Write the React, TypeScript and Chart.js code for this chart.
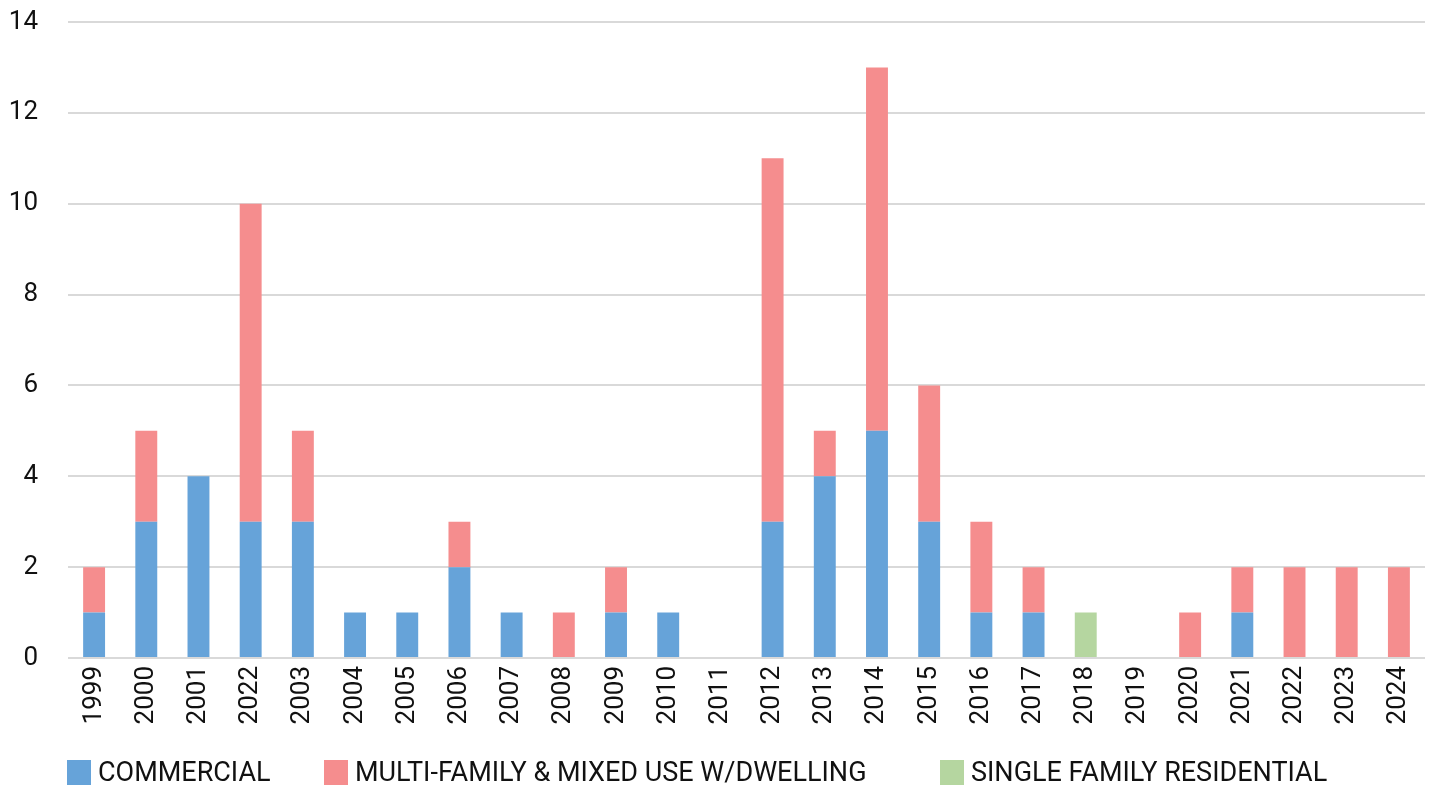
import React, { useEffect, useRef } from "react";
import { Chart, registerables } from "chart.js";

Chart.register(...registerables);

const categories = [
  "1999", "2000", "2001", "2022", "2003", "2004", "2005", "2006", "2007", "2008",
  "2009", "2010", "2011", "2012", "2013", "2014", "2015", "2016", "2017", "2018",
  "2019", "2020", "2021", "2022", "2023", "2024",
];
const commercial = [1, 3, 4, 3, 3, 1, 1, 2, 1, 0, 1, 1, 0, 3, 4, 5, 3, 1, 1, 0, 0, 0, 1, 0, 0, 0];
const multiFamily = [1, 2, 0, 7, 2, 0, 0, 1, 0, 1, 1, 0, 0, 8, 1, 8, 3, 2, 1, 0, 0, 1, 1, 2, 2, 2];
const singleFamily = [0, 0, 0, 0, 0, 0, 0, 0, 0, 0, 0, 0, 0, 0, 0, 0, 0, 0, 0, 1, 0, 0, 0, 0, 0, 0];
const seriesNames = ["COMMERCIAL", "MULTI-FAMILY & MIXED USE W/DWELLING", "SINGLE FAMILY RESIDENTIAL"];
const seriesColors = ["#66A3D9", "#F58D8E", "#B5D6A0"];
const yTicks = { min: 0, max: 14, step: 2 };

const FONT = "Roboto, 'DejaVu Sans', sans-serif";
const legendStarts = [67, 324, 940];

const customLegend = {
  id: "customLegend",
  afterDraw(chart: any) {
    const ctx = chart.ctx;
    ctx.save();
    ctx.font = `27px ${FONT}`;
    ctx.textBaseline = "middle";
    ctx.textAlign = "left";
    chart.data.datasets.forEach((ds: any, i: number) => {
      const x = legendStarts[i];
      ctx.fillStyle = ds.backgroundColor;
      ctx.fillRect(x, 760, 24, 25);
      ctx.fillStyle = "#111111";
      ctx.fillText(ds.label, x + 31, 774);
    });
    ctx.restore();
  },
};

export default function App() {
  const ref = useRef<HTMLCanvasElement>(null);
  useEffect(() => {
    if (!ref.current) return;
    const chart = new Chart(ref.current, {
      type: "bar",
      data: {
        labels: categories,
        datasets: [
          { label: seriesNames[0], data: commercial, backgroundColor: seriesColors[0] },
          { label: seriesNames[1], data: multiFamily, backgroundColor: seriesColors[1] },
          { label: seriesNames[2], data: singleFamily, backgroundColor: seriesColors[2] },
        ],
      },
      options: {
        responsive: false,
        animation: false,
        layout: { padding: { top: 22, right: 10, left: 0, bottom: 42 } },
        plugins: { legend: { display: false }, tooltip: { enabled: false } },
        datasets: { bar: { barPercentage: 0.42, categoryPercentage: 1 } },
        scales: {
          x: {
            stacked: true,
            grid: { display: false, drawTicks: false },
            border: { display: false },
            ticks: {
              minRotation: 90,
              maxRotation: 90,
              padding: 8,
              color: "#111111",
              font: { family: FONT, size: 26 },
              autoSkip: false,
            },
            afterFit(scale: any) {
              scale.height = 90;
              scale.paddingLeft = 0;
              scale.paddingRight = 0;
            },
          },
          y: {
            stacked: true,
            min: yTicks.min,
            max: yTicks.max,
            grid: { color: "#D9D9D9", lineWidth: 2, drawTicks: false },
            border: { display: false },
            ticks: {
              stepSize: yTicks.step,
              padding: 30,
              color: "#111111",
              font: { family: FONT, size: 26 },
            },
            afterFit(scale: any) {
              scale.width = 68;
              scale.paddingTop = 0;
              scale.paddingBottom = 0;
            },
          },
        },
      },
      plugins: [customLegend],
    });
    return () => chart.destroy();
  }, []);
  return (
    <div style={{ position: "absolute", left: 0, top: 0, width: 1435, height: 790, background: "#fff" }}>
      <canvas ref={ref} width={1435} height={790} />
    </div>
  );
}
